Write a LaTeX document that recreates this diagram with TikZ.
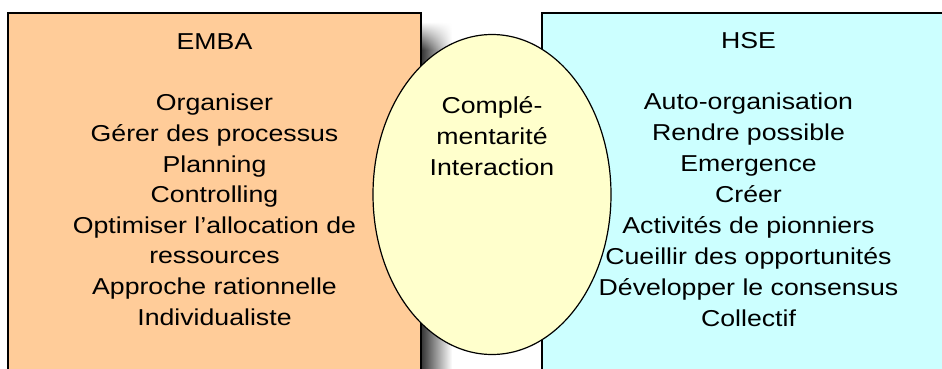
\documentclass[tikz,border=0pt]{standalone}
\usepackage{fontspec}
\setmainfont{Liberation Sans}[FakeStretch=1.16]
\usepackage{tikz}
\usetikzlibrary{positioning,fadings}
\usepackage{xcolor}

\definecolor{embaorange}{RGB}{255,204,153}
\definecolor{hsecyan}{RGB}{204,255,255}
\definecolor{midyellow}{RGB}{255,255,204}

\tikzset{
  lbl/.style={align=center, inner sep=0.75pt, font=\fontsize{17.25}{23.25}\selectfont}
}

\begin{document}
\begin{tikzpicture}[x=0.75pt,y=0.75pt,yscale=-1,xscale=1]
\clip (0,0) rectangle (942,368); %diagram is 942 wide and 368 high

%Shadow of left box
\shade [left color=black!80, right color=white, path fading=north] (421,22) rectangle (452,50) ;
\shade [left color=black!80, right color=white] (421,50) rectangle (452,380) ;
%Shape: Rectangle (EMBA)
\draw [fill=embaorange, line width=1.5] (8,13) rectangle (421,380) ;
%Shape: Rectangle (HSE)
\draw [fill=hsecyan, line width=1.5] (542,13) rectangle (960,380) ;
%Shape: Ellipse
\draw [fill=midyellow, line width=0.9] (492,194.5) ellipse (119 and 160) ;

% Text Node
\node (emba) [lbl, anchor=base] at (214.5,49) {EMBA};
% Text Node
\node (embalist) [lbl, anchor=north, font=\fontsize{17.25}{22.95}\selectfont] at (214.5,93) {Organiser\\Gérer des processus\\Planning\\Controlling\\Optimiser l’allocation de\\ressources\\Approche rationnelle\\Individualiste};
% Text Node
\node (hse) [lbl, anchor=base] at (748.5,48) {HSE};
% Text Node
\node (hselist) [lbl, anchor=north] at (748.5,92) {Auto-organisation\\Rendre possible\\Emergence\\Créer\\Activités de pionniers\\Cueillir des opportunités\\Développer le consensus\\Collectif};
% Text Node
\node (compl) [lbl, anchor=north] at (492,95) {Complé-\\mentarité\\Interaction};
\end{tikzpicture}
\end{document}
